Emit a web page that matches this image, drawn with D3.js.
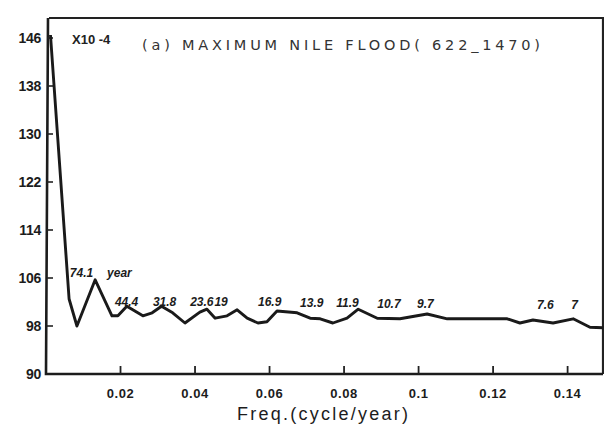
<!DOCTYPE html>
<html>
<head>
<meta charset="utf-8">
<script src="https://cdnjs.cloudflare.com/ajax/libs/d3/7.8.5/d3.min.js"></script>
<style>
  body { margin: 0; background: #fff; }
  svg { display: block; }
  .tick-label { font-family: "Liberation Sans", Arial, sans-serif; font-weight: bold; fill: #1c1c1c; }
  .peak-label { font-family: "Liberation Sans", Arial, sans-serif; font-weight: bold; font-style: italic; font-size: 12px; fill: #1c1c1c; }
</style>
</head>
<body>
<div id="vis-container"></div>
<script>
// spectrum (freq in cycle/year, power x10^-4)
freqs = [0.0012, 0.0062, 0.0083, 0.0132, 0.0177, 0.0193, 0.0217, 0.026, 0.0285, 0.031, 0.034, 0.0373,
         0.0413, 0.0432, 0.0454, 0.0486, 0.0513, 0.054, 0.0569, 0.0593, 0.062, 0.0674, 0.0709, 0.0736,
         0.077, 0.0808, 0.0838, 0.0889, 0.095, 0.1023, 0.1077, 0.1165, 0.1238, 0.1272, 0.1307, 0.1361,
         0.1415, 0.146, 0.1495]
power = [146.5, 102.5, 98, 105.7, 99.7, 99.7, 101.3, 99.7, 100.2, 101.3, 100.2, 98.5,
         100.3, 100.8, 99.3, 99.7, 100.7, 99.3, 98.5, 98.7, 100.5, 100.2, 99.3, 99.2,
         98.5, 99.3, 100.8, 99.3, 99.2, 100, 99.2, 99.2, 99.2, 98.5, 99, 98.5,
         99.2, 97.8, 97.7]

xTicks = [0.02, 0.04, 0.06, 0.08, 0.1, 0.12, 0.14]
xTickLabels = ["0.02", "0.04", "0.06", "0.08", "0.1", "0.12", "0.14"]
yTicks = [90, 98, 106, 114, 122, 130, 138, 146]

// period labels over the peaks
peakText = ["74.1", "year", "44.4", "31.8", "23.6", "19", "16.9", "13.9", "11.9", "10.7", "9.7", "7.6", "7"]
peakFreq = [0.0064, 0.0164, 0.0185, 0.0287, 0.0387, 0.0452, 0.0569, 0.0682, 0.0779, 0.0889, 0.0996, 0.1318, 0.141]
peakVal  = [106.2, 106.2, 101.3, 101.3, 101.3, 101.3, 101.3, 101.1, 101.1, 101, 101, 100.8, 100.8]

chart = {
  width: 604, height: 427,
  left: 46, right: 603, top: 18, bottom: 374,
  scale: { x: d3.scaleLinear(), y: d3.scaleLinear() }
}

function drawChart(){
  chart.scale.x.domain([0, 0.1495]).range([chart.left, chart.right]);
  chart.scale.y.domain([90, 90 + (chart.bottom - chart.top) / 6]).range([chart.bottom, chart.top]);
  let x = chart.scale.x, y = chart.scale.y;

  svg = d3.select("#vis-container").append("svg").attr("width", chart.width).attr("height", chart.height);

  // frame: top and right border, then the axes
  svg.append("path")
    .attr("d", "M" + (chart.left + 3) + "," + chart.top + "H" + chart.right + "V" + chart.bottom)
    .attr("fill", "none").attr("stroke", "#222").attr("stroke-width", 2.2);
  svg.append("path")
    .attr("d", "M" + (chart.left + 2) + "," + chart.top + "L" + chart.left + "," + chart.bottom + "H" + chart.right)
    .attr("fill", "none").attr("stroke", "#1c1c1c").attr("stroke-width", 2.6);

  // y ticks point inward
  svg.selectAll(".ytick").data(yTicks.slice(1)).enter().append("line")
    .attr("x1", chart.left + 1).attr("x2", chart.left + 7)
    .attr("y1", d => y(d)).attr("y2", d => y(d))
    .attr("stroke", "#222").attr("stroke-width", 1.6);
  svg.selectAll(".ylab").data(yTicks).enter().append("text")
    .attr("class", "tick-label")
    .attr("x", 41).attr("y", d => y(d) + 5)
    .attr("text-anchor", "end")
    .style("font-size", "14px").style("letter-spacing", "-0.3px")
    .text(d => d);

  svg.selectAll(".xtick").data(xTicks).enter().append("line")
    .attr("x1", d => x(d)).attr("x2", d => x(d))
    .attr("y1", chart.bottom).attr("y2", chart.bottom - 8)
    .attr("stroke", "#222").attr("stroke-width", 1.8);
  svg.selectAll(".xlab").data(xTicks).enter().append("text")
    .attr("class", "tick-label")
    .attr("x", d => x(d)).attr("y", chart.bottom + 24)
    .attr("text-anchor", "middle")
    .style("font-size", "13px").style("letter-spacing", "0.6px")
    .text((d, i) => xTickLabels[i]);

  svg.append("text")
    .attr("x", 237).attr("y", 420)
    .attr("textLength", 171)
    .style("font-family", "'Liberation Sans', Arial, sans-serif")
    .style("font-size", "18px").style("fill", "#1c1c1c")
    .text("Freq.(cycle/year)");

  // title
  svg.append("text")
    .attr("x", 72).attr("y", 44)
    .style("font-family", "'Liberation Sans', Arial, sans-serif")
    .style("font-size", "13px").style("font-weight", "bold").style("fill", "#222")
    .text("X10 -4");
  svg.append("text")
    .attr("x", 142).attr("y", 50)
    .attr("textLength", 398).attr("lengthAdjust", "spacing")
    .style("font-family", "'DejaVu Sans', sans-serif")
    .style("font-size", "14.5px").style("fill", "#333")
    .text("(a) MAXIMUM NILE FLOOD( 622_1470)");

  line = d3.line().x((d, i) => x(freqs[i])).y(d => y(d));
  svg.append("path")
    .datum(power)
    .attr("d", line)
    .attr("fill", "none")
    .attr("stroke", "#1a1a1a")
    .attr("stroke-width", 2.9)
    .attr("stroke-linejoin", "round");

  svg.selectAll(".peak-label").data(peakText).enter().append("text")
    .attr("class", "peak-label")
    .attr("x", (d, i) => x(peakFreq[i]))
    .attr("y", (d, i) => y(peakVal[i]))
    .text(d => d);
}

drawChart();
</script>
</body>
</html>
